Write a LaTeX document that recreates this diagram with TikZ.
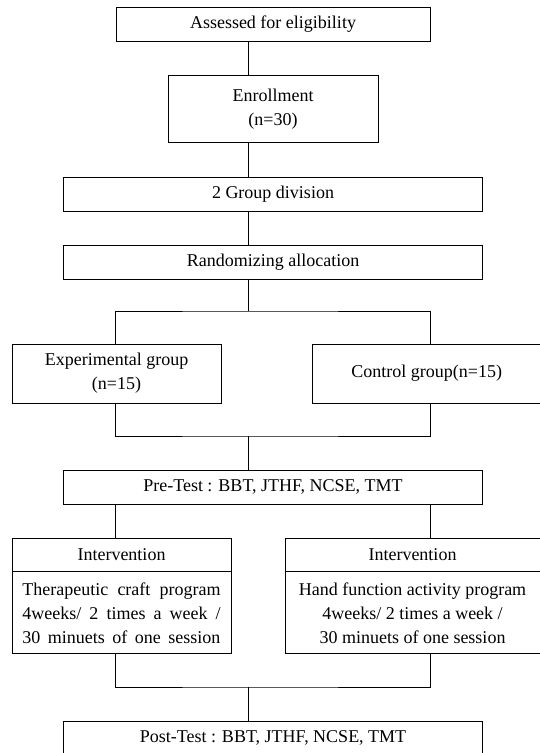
\documentclass[tikz,border=0pt]{standalone}
\usepackage{fontspec}
\setmainfont{Liberation Serif}
\usetikzlibrary{positioning}
\newcommand{\spreadline}[1]{\makebox[198pt][s]{#1}}

\begin{document}
\begin{tikzpicture}[
  x=1pt, y=-1pt, line width=0.8pt,
  stage/.style={draw, minimum width=419pt, minimum height=34pt, inner sep=0pt, align=center, font=\fontsize{18}{24}\selectfont},
  arm/.style={stage, minimum width=209pt, minimum height=59pt},
  armhead/.style={stage, minimum height=33pt},
  armbody/.style={stage, minimum height=82pt}
]
\useasboundingbox (0,0) rectangle (539,753);
\coordinate (spine) at (248,0);

% Main spine
\node[stage, minimum width=314pt] (assess) at (273,24) {Assessed for eligibility};
\node[stage, minimum width=210pt, minimum height=67pt, below=34pt of assess] (enroll) {Enrollment\\(n=30)};
\node[stage, below=34pt of enroll] (group) {2 Group division};
\node[stage, below=33pt of group] (random) {Randomizing allocation};

% Two groups
\node[arm] (exp) at (116.5,373.5) {Experimental group\\(n=15)};
\node[arm, minimum width=228pt, right=91pt of exp] (ctrl) {Control group(n=15)};
\node[stage] (pre) at (273,487) {Pre-Test : BBT, JTHF, NCSE, TMT};

% Interventions
\node[armhead, minimum width=219pt] (headL) at (121.5,554.5) {Intervention};
\node[armbody, minimum width=219pt, below=0pt of headL] (bodyL) {\spreadline{Therapeutic craft program}\\\spreadline{4weeks/ 2 times a week /}\\\spreadline{30 minuets of one session}};
\node[armhead, minimum width=255pt] (headR) at (412.5,554.5) {Intervention};
\node[armbody, minimum width=255pt, below=0pt of headR] (bodyR) {Hand function activity program\\4weeks/ 2 times a week /\\30 minuets of one session};
\node[stage] (post) at (273,738) {Post-Test : BBT, JTHF, NCSE, TMT};

% Connectors
\coordinate (split) at (248,311);
\coordinate (join) at (248,436);
\coordinate (join2) at (248,687);
\draw (assess.south -| spine) -- (enroll.north -| spine);
\draw (enroll.south -| spine) -- (group.north -| spine);
\draw (group.south -| spine) -- (random.north -| spine);
\draw (random.south -| spine) -- (split);
\draw (exp.north -| assess.west) |- (split) -| (ctrl.north -| assess.east);
\draw (exp.south -| assess.west) |- (join) -| (ctrl.south -| assess.east);
\draw (join) -- (pre.north -| spine);
\draw (pre.south -| assess.west) -- (headL.north -| assess.west);
\draw (pre.south -| assess.east) -- (headR.north -| assess.east);
\draw (bodyL.south -| assess.west) |- (join2) -| (bodyR.south -| assess.east);
\draw (join2) -- (post.north -| spine);

\end{tikzpicture}
\end{document}
